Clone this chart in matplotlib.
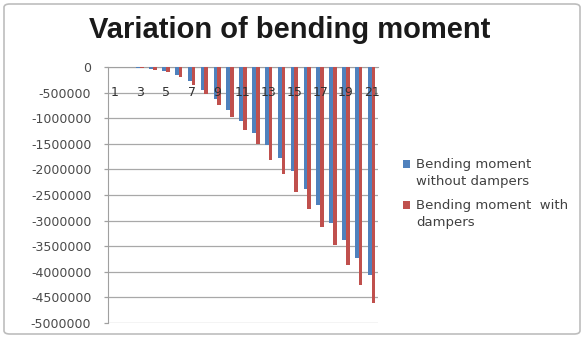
import numpy as np
import matplotlib
matplotlib.use('Agg')
import matplotlib.pyplot as plt
from matplotlib.patches import FancyBboxPatch, Rectangle
from matplotlib.legend_handler import HandlerPatch

# Categories (span sections) and bending moments
sections = list(range(1, 22))
tick_labels = [str(s) for s in sections if s % 2 == 1]
moment_without = [0, -5000, -20000, -40000, -80000, -150000, -280000, -440000,
                  -630000, -840000, -1050000, -1280000, -1530000, -1780000,
                  -2040000, -2390000, -2690000, -3050000, -3380000, -3730000,
                  -4060000]
moment_with = [0, -5000, -20000, -50000, -100000, -200000, -350000, -520000,
               -740000, -980000, -1230000, -1500000, -1820000, -2090000,
               -2450000, -2770000, -3120000, -3480000, -3870000, -4260000,
               -4610000]

W, H = 585, 337
fig = plt.figure(figsize=(W/100.0, H/100.0), dpi=100)
fig.patch.set_facecolor('white')

# chart border
fig.patches.append(FancyBboxPatch((4.0/W, 3.0/H), 1 - 9.0/W, 1 - 7.0/H,
                                  boxstyle='round,pad=0,rounding_size=0.01',
                                  transform=fig.transFigure, fill=False,
                                  edgecolor='#bdbdbd', linewidth=1.2))

ax = fig.add_axes([108.0/W, 1 - 323.0/H, 270.0/W, 256.0/H])
x = np.array(sections)
bw = 0.29
b1 = ax.bar(x - bw/2, moment_without, bw, color='#4F81BD', zorder=3)
b2 = ax.bar(x + bw/2, moment_with, bw, color='#C0504D', zorder=3)

ax.set_xlim(0.5, 21.5)
ax.set_ylim(-5000000, 0)
ax.set_yticks(np.arange(-5000000, 1, 500000))
ax.set_yticklabels([str(v) for v in np.arange(-5000000, 1, 500000)])
ax.yaxis.grid(True, color='#a8a8a8', linewidth=0.9)
ax.tick_params(axis='y', labelsize=9, labelcolor='#4a4a4a', color='#a0a0a0',
               length=3, width=0.9, pad=9)

ax.set_xticks([s for s in sections if s % 2 == 1])
ax.set_xticklabels(tick_labels)
ax.spines['bottom'].set_position(('data', 0))
ax.tick_params(axis='x', labelsize=9, labelcolor='#303030', length=0, pad=14)

# grid behind the bars, category labels on top of them
ax.yaxis.set_zorder(0.5)
ax.xaxis.set_zorder(4)

for side in ['top', 'right']:
    ax.spines[side].set_visible(False)
ax.spines['left'].set_color('#a0a0a0')
ax.spines['bottom'].set_color('#a0a0a0')

fig.text(290.0/W, 1 - 30.0/H, 'Variation of bending moment', ha='center',
         va='center', fontsize=21, fontweight='bold', color='#1a1a1a',
         family='Liberation Sans')


# legend square next to the first line of each label
def top_square(legend, orig_handle, xdescent, ydescent, width, height,
               fontsize):
    return Rectangle((-xdescent, -ydescent + 0.7*fontsize), width, height)


leg = fig.legend([b1.patches[0], b2.patches[0]],
                 ['Bending moment\nwithout dampers',
                  'Bending moment  with\ndampers'],
                 handler_map={Rectangle: HandlerPatch(patch_func=top_square)},
                 loc='upper left', bbox_to_anchor=(396.0/W, 1 - 151.0/H),
                 frameon=False, fontsize=9.5, handlelength=0.55,
                 handleheight=0.55, handletextpad=0.5, labelspacing=0.8,
                 borderpad=0)
for t in leg.get_texts():
    t.set_color('#404040')
    t.set_linespacing(1.45)

fig.savefig('out.png', dpi=100, facecolor='white')
